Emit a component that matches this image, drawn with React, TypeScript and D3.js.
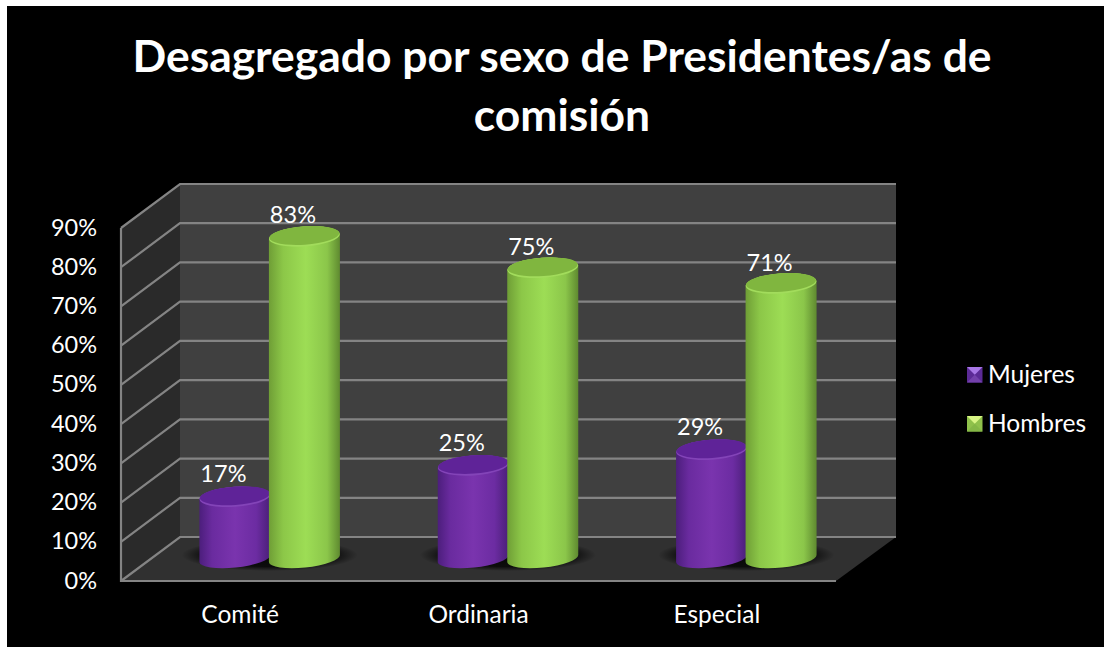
import React from "react";
import * as d3 from "d3";

const categories = ["Comité", "Ordinaria", "Especial"];
const seriesNames = ["Mujeres", "Hombres"];
const mujeres = [17, 25, 29];
const hombres = [83, 75, 71];
const yTicks = [0, 10, 20, 30, 40, 50, 60, 70, 80, 90];
const titleLines = ["Desagregado por sexo de Presidentes/as de", "comisión"];

const W = 1104, H = 647;
const FONT = "Lato, 'Open Sans', sans-serif";
const frontL = 121, frontR = 836, dx = 59, dy = -44;

const y = d3.scaleLinear().domain([0, 90]).range([581, 228]);
const xFront = d3.scaleBand<string>().domain(categories).range([frontL, frontR]);
const xBar = d3.scaleBand<string>().domain(categories).range([frontL + 29.5, frontR + 29.5]);
const xSeries = d3.scaleBand<string>().domain(seriesNames).range([-69.5, 69.5]);

const palette: Record<string, any> = {
  Mujeres: { grad: "gP", top: "#5f2398", lip: "#8344b8", mTop: "#a877e6", mSide: "#5b2a96", mBot: "#7340ab" },
  Hombres: { grad: "gG", top: "#80b63f", lip: "#a2dc5c", mTop: "#d8f584", mSide: "#8fc14b", mBot: "#84b746" },
};

const rad = (d: number) => (d * Math.PI) / 180;

function Cylinder({ cx, value, name }: { cx: number; value: number; name: string }) {
  const rx = 35.5, ryT = 10, ryB = 9;
  const tTop = y(value) - 19 + (name === "Mujeres" ? 1.5 : 0), tBot = y(0) - 22.5;
  const sT = rx * Math.sin(rad(4)), sB = rx * Math.sin(rad(6));
  const c = palette[name];
  const d =
    `M${cx - rx},${tTop + sT} L${cx - rx},${tBot + sB} ` +
    `A${rx},${ryB} -6 0 0 ${cx + rx},${tBot - sB} L${cx + rx},${tTop - sT} ` +
    `A${rx},${ryT} -4 0 0 ${cx - rx},${tTop + sT} Z`;
  return (
    <g>
      <path d={d} fill={`url(#${c.grad})`} />
      <ellipse cx={cx} cy={tTop} rx={rx} ry={ryT} transform={`rotate(-4 ${cx} ${tTop})`} fill={c.lip} />
      <ellipse cx={cx} cy={tTop - 1} rx={rx - 0.5} ry={ryT - 0.8} transform={`rotate(-4 ${cx} ${tTop})`} fill={c.top} />
    </g>
  );
}

export default function App() {
  const series = [
    { name: seriesNames[0], values: mujeres },
    { name: seriesNames[1], values: hombres },
  ];
  const backL = frontL + dx, backR = frontR + dx + 1;
  return (
    <svg width={W} height={H} style={{ position: "absolute", left: 0, top: 0 }} fontFamily={FONT}>
      <defs>
        <linearGradient id="gP" x1="0" x2="1" y1="0" y2="0">
          <stop offset="0" stopColor="#4c1e7c" />
          <stop offset="0.18" stopColor="#6a2b9f" />
          <stop offset="0.5" stopColor="#7a34ae" />
          <stop offset="0.8" stopColor="#6c2ca2" />
          <stop offset="1" stopColor="#4a1f78" />
        </linearGradient>
        <linearGradient id="gG" x1="0" x2="1" y1="0" y2="0">
          <stop offset="0" stopColor="#6f9e36" />
          <stop offset="0.2" stopColor="#8cc748" />
          <stop offset="0.52" stopColor="#9ddd55" />
          <stop offset="0.82" stopColor="#8bc64a" />
          <stop offset="1" stopColor="#5f8a30" />
        </linearGradient>
        <radialGradient id="shadow">
          <stop offset="0" stopColor="#000" stopOpacity={0.85} />
          <stop offset="0.72" stopColor="#000" stopOpacity={0.75} />
          <stop offset="1" stopColor="#000" stopOpacity={0} />
        </radialGradient>
      </defs>

      <rect width={W} height={H} fill="#fff" />
      <rect x={7} y={6} width={W - 7} height={H - 6} fill="#000" />

      {titleLines.map((t, i) => (
        <text key={t} x={562} y={72 + i * 59} textAnchor="middle" fill="#fff" fontWeight={700} fontSize={44.4}>
          {t}
        </text>
      ))}

      {/* walls */}
      <polygon
        points={`${backL},${y(0) + dy} ${backR},${y(0) + dy} ${backR},${y(90) + dy} ${backL},${y(90) + dy}`}
        fill="#404040"
      />
      <polygon
        points={`${frontL},${y(0)} ${backL},${y(0) + dy} ${backL},${y(90) + dy} ${frontL},${y(90)}`}
        fill="#2a2a2a"
      />
      <polygon
        points={`${frontL},${y(0)} ${backL},${y(0) + dy} ${backR},${y(0) + dy} ${frontR},${y(0)}`}
        fill="#303030"
      />

      {/* grid */}
      {yTicks.map((t) => (
        <polyline
          key={t}
          points={`${frontL},${y(t)} ${backL},${y(t) + dy} ${backR},${y(t) + dy}`}
          fill="none"
          stroke="#848484"
          strokeWidth={2.2}
        />
      ))}
      <line x1={frontL} x2={frontL} y1={y(90)} y2={y(0) + 1} stroke="#848484" strokeWidth={2.2} />
      <line x1={frontL - 1} x2={frontR} y1={y(0)} y2={y(0)} stroke="#848484" strokeWidth={2.2} />

      {/* axis labels */}
      {yTicks.map((t) => (
        <text key={t} x={97} y={y(t) + 7.5} textAnchor="end" fill="#fff" fontSize={23.5}>
          {t}%
        </text>
      ))}
      {categories.map((c) => (
        <text key={c} x={xFront(c)! + xFront.bandwidth() / 2} y={623} textAnchor="middle" fill="#fff" fontSize={24.5}>
          {c}
        </text>
      ))}

      {/* floor shadows */}
      {categories.map((c) => (
        <ellipse
          key={c}
          cx={xBar(c)! + xBar.bandwidth() / 2}
          cy={y(0) - 26}
          rx={88}
          ry={16}
          fill="url(#shadow)"
        />
      ))}

      {/* cylinders */}
      {series.map((s) =>
        categories.map((c, i) => (
          <Cylinder
            key={s.name + c}
            cx={xBar(c)! + xBar.bandwidth() / 2 + xSeries(s.name)! + xSeries.bandwidth() / 2}
            value={s.values[i]}
            name={s.name}
          />
        ))
      )}

      {/* value labels */}
      {series.map((s) =>
        categories.map((c, i) => (
          <text
            key={s.name + c}
            x={xBar(c)! + xBar.bandwidth() / 2 + xSeries(s.name)! + xSeries.bandwidth() / 2 - 11.5}
            y={y(s.values[i]) - 19 - 13}
            textAnchor="middle"
            fill="#fff"
            fontSize={23.5}
          >
            {s.values[i]}%
          </text>
        ))
      )}

      {/* legend */}
      {seriesNames.map((n, i) => {
        const x0 = 967, y0 = 367 + i * 49, s = 15.5, c = palette[n], m = s / 2;
        return (
          <g key={n}>
            <rect x={x0} y={y0} width={s} height={s} fill={c.mSide} />
            <polygon points={`${x0},${y0} ${x0 + s},${y0} ${x0 + m},${y0 + m}`} fill={c.mTop} />
            <polygon points={`${x0},${y0 + s} ${x0 + s},${y0 + s} ${x0 + m},${y0 + m}`} fill={c.mBot} />
            <text x={988} y={y0 + 15.5} fill="#fff" fontSize={24.5}>
              {n}
            </text>
          </g>
        );
      })}
    </svg>
  );
}
